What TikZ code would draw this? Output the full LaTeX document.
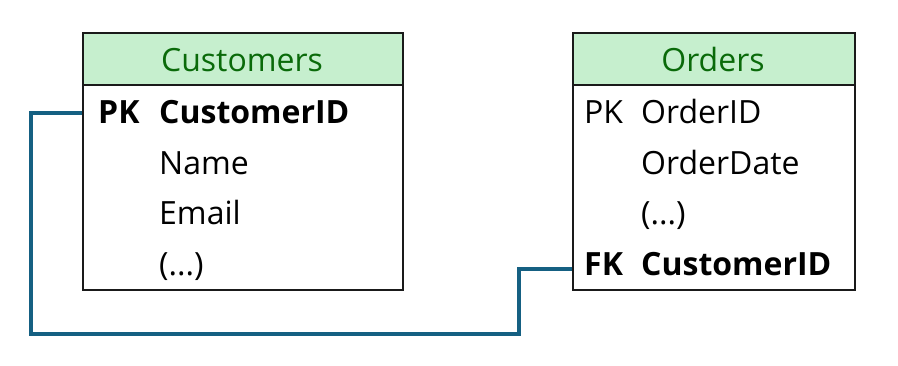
\documentclass[tikz,border=0pt]{standalone}
\usepackage{fontspec}
\setmainfont{Open Sans}
\definecolor{hdrfill}{HTML}{C6EFCE}
\definecolor{hdrtext}{HTML}{0A6A0A}
\definecolor{relcol}{HTML}{156082}
\definecolor{edgecol}{HTML}{1A1A1A}
\begin{document}
\begin{tikzpicture}[x=1pt,y=-1pt,
  tablebox/.style={draw=edgecol, line width=1.7pt, fill=white, inner sep=0pt, anchor=north west, minimum height=257pt},
  header/.style={draw=edgecol, line width=1.7pt, fill=hdrfill, inner sep=0pt, anchor=north west, minimum height=52pt},
  hdrlabel/.style={anchor=base, inner sep=0pt, text=hdrtext, font=\fontsize{32}{38}\selectfont},
  fieldtext/.style={anchor=base west, inner sep=0pt, font=\fontsize{32}{38}\selectfont},
  keytext/.style={anchor=base west, inner sep=0pt, font=\fontsize{32}{38}\selectfont\bfseries},
  relation/.style={draw=relcol, line width=3.2pt, line join=miter}]
\useasboundingbox (0,0) rectangle (898,365);

% Customers table
\node[tablebox, minimum width=320pt] (cust) at (82,32) {};
\node[header, minimum width=320pt] (custhdr) at (82,32) {};
\node[hdrlabel] (custtitle) at (242,71) {Customers};
\node[keytext] (cpk) at (98,123) {PK};
\node[keytext] (cid) at (159,123) {CustomerID};
\node[fieldtext] (cname) at (159,174) {Name};
\node[fieldtext] (cemail) at (159,224) {Email};
\node[fieldtext] (cmore) at (159,275) {(...)};

% Orders table
\node[tablebox, minimum width=282pt] (ord) at (572,32) {};
\node[header, minimum width=282pt] (ordhdr) at (572,32) {};
\node[hdrlabel] (ordtitle) at (713,71) {Orders};
\node[fieldtext] (opk) at (584,123) {PK};
\node[fieldtext] (oid) at (641,123) {OrderID};
\node[fieldtext] (odate) at (641,174) {OrderDate};
\node[fieldtext] (omore) at (641,224) {(...)};
\node[keytext] (ofk) at (584,275) {FK};
\node[keytext] (ocid) at (641,275) {CustomerID};

% relation connector
\coordinate (custport) at (82,113);
\coordinate (ordport) at (572,269);
\coordinate (lcorner) at (31,334);
\coordinate (rcorner) at (519,334);
\draw[relation] (custport) -| (lcorner) -- (rcorner) |- (ordport);
\end{tikzpicture}
\end{document}
